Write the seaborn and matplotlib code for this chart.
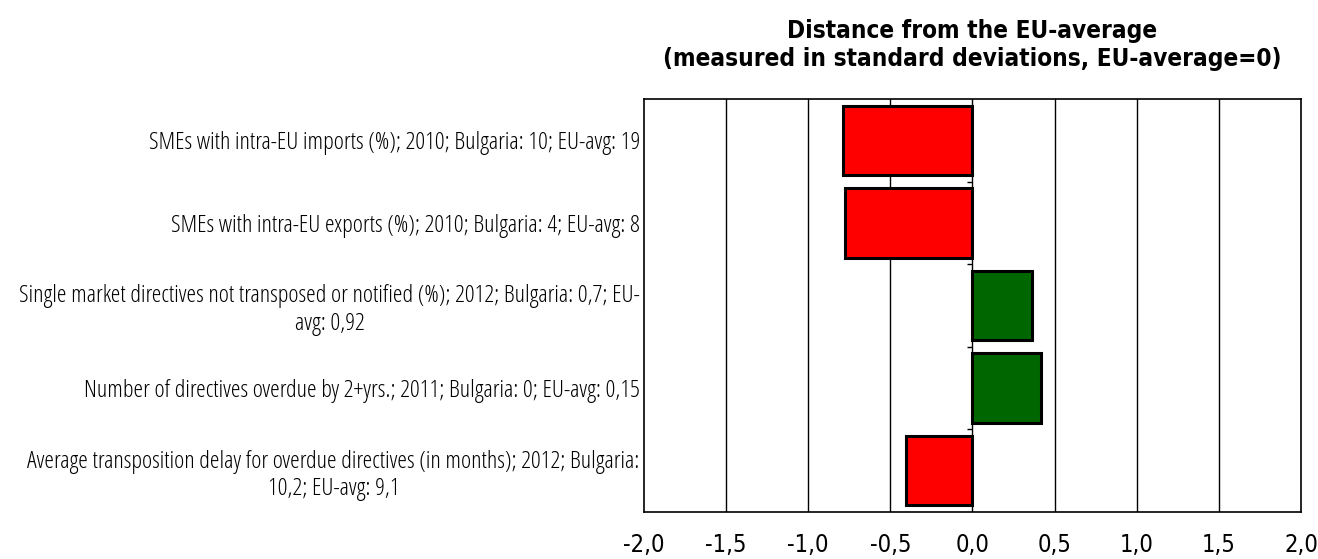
import numpy as np
import matplotlib
matplotlib.use("Agg")
import matplotlib.pyplot as plt
import seaborn as sns

sns.set_style("white")

# Data
labels = [
    "SMEs with intra-EU imports (%); 2010; Bulgaria: 10; EU-avg: 19",
    "SMEs with intra-EU exports (%); 2010; Bulgaria: 4; EU-avg: 8",
    "Single market directives not transposed or notified (%); 2012; Bulgaria: 0,7; EU-\navg: 0,92",
    "Number of directives overdue by 2+yrs.; 2011; Bulgaria: 0; EU-avg: 0,15",
    "Average transposition delay for overdue directives (in months); 2012; Bulgaria:\n10,2; EU-avg: 9,1",
]
values = [-0.79, -0.775, 0.365, 0.42, -0.405]
x_ticks = [-2.0, -1.5, -1.0, -0.5, 0.0, 0.5, 1.0, 1.5, 2.0]

plt.rcParams['font.family'] = ["DejaVu Sans"]

colors = ['#FF0000' if v < 0 else '#006600' for v in values]

fig = plt.figure(figsize=(13.18, 5.59), dpi=100)
ax = fig.add_axes([0.4886, 0.084, 0.4985, 0.739])

sns.barplot(x=values, y=labels, hue=labels, palette=colors, legend=False,
            orient='h', width=0.84, saturation=1, edgecolor='black',
            linewidth=2.2, ax=ax, zorder=3)

# vertical gridlines
for t in x_ticks[1:-1]:
    ax.axvline(t, color='black', linewidth=1, zorder=1)

# small ticks on the zero axis between categories
bounds = np.arange(len(labels) - 1) + 0.5
ax.hlines(bounds, -0.035, 0, color='black', linewidth=1, zorder=4)

ax.set_xlim(-2, 2)
ax.set_ylim(len(labels) - 0.5, -0.5)
ax.set_xticks(x_ticks)
ax.set_xticklabels([f"{t:.1f}".replace('.', ',') for t in x_ticks])
for lab in ax.get_xticklabels():
    lab.set_fontsize(17)
    lab.set_fontstretch('condensed')
    lab.set_color('black')
ax.tick_params(axis='x', length=0, pad=15)
ax.tick_params(axis='y', length=0, pad=3)
for lab in ax.get_yticklabels():
    lab.set_fontsize(17.6)
    lab.set_multialignment('center')
    lab.set_fontfamily(["Open Sans", "DejaVu Sans"])
    lab.set_fontstretch('condensed')
    lab.set_color('black')

for s in ax.spines.values():
    s.set_color('black')
    s.set_linewidth(1.2)

ax.set_xlabel('')
ax.set_ylabel('')
ax.set_title("Distance from the EU-average\n(measured in standard deviations, EU-average=0)",
             fontsize=17.5, fontweight='bold', fontstretch='condensed',
             color='black', pad=24, linespacing=1.2)

fig.savefig("out.png", dpi=100)
